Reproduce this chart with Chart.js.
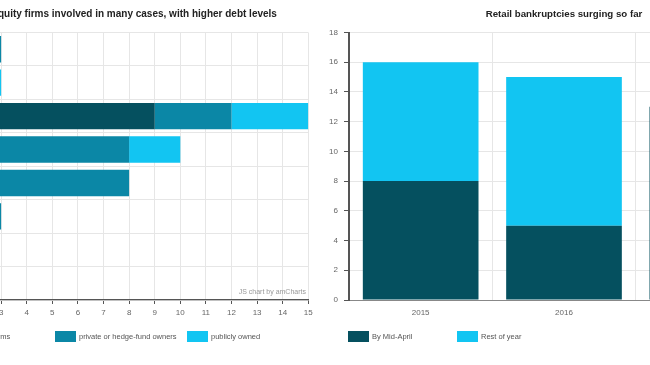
<!DOCTYPE html>
<html>
<head>
<meta charset="utf-8">
<script src="https://cdn.jsdelivr.net/npm/chart.js@4.4.0/dist/chart.umd.min.js"></script>
<style>
  body { margin: 0; width: 650px; height: 365px; overflow: hidden; position: relative; background: #fff;
         font-family: "Liberation Sans", Arial, sans-serif; }
  .wrap { position: absolute; top: 0; height: 365px; }
  .lg { position: absolute; top: 331px; height: 11px; line-height: 11px; font-size: 7.5px; color: #555; white-space: nowrap; }
  .lg i { display: inline-block; width: 21px; height: 11px; vertical-align: top; margin-right: 3px; }
  .credit { position: absolute; right: 344px; top: 288px; font-size: 7px; color: #999; }
</style>
</head>
<body>
<div class="wrap" style="left:-170px;width:495px"><canvas id="owners"></canvas></div>
<div class="wrap" style="left:300px;width:500px"><canvas id="retail"></canvas></div>

<div class="credit">JS chart by amCharts</div>

<div class="lg" style="left:-77px"><i style="background:#05505f"></i>private-equity firms</div>
<div class="lg" style="left:55px"><i style="background:#0b87a6"></i>private or hedge-fund owners</div>
<div class="lg" style="left:187px"><i style="background:#12c5f2"></i>publicly owned</div>
<div class="lg" style="left:348px"><i style="background:#05505f"></i>By Mid-April</div>
<div class="lg" style="left:457px"><i style="background:#12c5f2"></i>Rest of year</div>

<script>
// left chart: bankruptcies by owner type
const debtLevels = ['<1x', '1-2x', '2-3x', '3-4x', '4-5x', '5-6x', '6-7x', '>7x'];
const privateEquity = [0, 0, 9, 0, 0, 0, 0, 0];
const hedgeFund = [3, 0, 3, 8, 8, 3, 0, 0];
const publiclyOwned = [0, 3, 3, 2, 0, 0, 0, 0];

// right chart: retail bankruptcies per year
const years = ['2015', '2016', '2017'];
const byMidApril = [8, 5, 13];
const restOfYear = [8, 10, 0];

const DARK = '#05505f', MID = '#0b87a6', LIGHT = '#12c5f2';
const GRID = '#e6e6e6', AXIS = '#555';

Chart.defaults.font.family = '"Liberation Sans", Arial, sans-serif';
Chart.defaults.font.size = 8;
Chart.defaults.color = '#666';

const titleOpts = (text, size) => ({
  display: true, text: text, fullSize: false, color: '#222',
  font: { size: size, weight: 'bold' },
  padding: { top: 14 - size * 0.6, bottom: 32.5 - 14 - size * 0.6 }
});

new Chart(document.getElementById('owners'), {
  type: 'bar',
  data: {
    labels: debtLevels,
    datasets: [
      { label: 'private-equity firms', data: privateEquity, backgroundColor: DARK },
      { label: 'private or hedge-fund owners', data: hedgeFund, backgroundColor: MID },
      { label: 'publicly owned', data: publiclyOwned, backgroundColor: LIGHT }
    ]
  },
  options: {
    indexAxis: 'y',
    responsive: true,
    maintainAspectRatio: false,
    animation: false,
    layout: { padding: { left: 0, right: 16.7, top: 0, bottom: 40 } },
    datasets: { bar: { barPercentage: 0.79, categoryPercentage: 1 } },
    plugins: { legend: { display: false }, tooltip: { enabled: false }, title: titleOpts('Private-equity firms involved in many cases, with higher debt levels', 10) },
    scales: {
      x: {
        stacked: true, min: 0, max: 15,
        ticks: { stepSize: 1, padding: 4 },
        grid: { color: GRID, tickColor: AXIS, tickLength: 4 },
        border: { color: AXIS, width: 1.3 },
        afterFit: s => { s.height = 25; }
      },
      y: {
        stacked: true,
        grid: { color: GRID, drawTicks: false },
        border: { color: AXIS, width: 1.5 },
        ticks: { padding: 6 },
        afterFit: s => { s.width = 94.3; }
      }
    }
  }
});

new Chart(document.getElementById('retail'), {
  type: 'bar',
  data: {
    labels: years,
    datasets: [
      { label: 'By Mid-April', data: byMidApril, backgroundColor: DARK },
      { label: 'Rest of year', data: restOfYear, backgroundColor: LIGHT }
    ]
  },
  options: {
    responsive: true,
    maintainAspectRatio: false,
    animation: false,
    layout: { padding: { left: 0, right: 21, top: 0, bottom: 40 } },
    datasets: { bar: { barPercentage: 0.807, categoryPercentage: 1 } },
    plugins: { legend: { display: false }, tooltip: { enabled: false }, title: titleOpts('Retail bankruptcies surging so far', 9.7) },
    scales: {
      x: {
        stacked: true,
        grid: { color: GRID, drawTicks: false },
        border: { color: '#888', width: 1 },
        ticks: { padding: 8 },
        afterFit: s => { s.height = 25; }
      },
      y: {
        stacked: true, min: 0, max: 18,
        ticks: { stepSize: 2, padding: 6 },
        grid: { color: GRID, tickColor: AXIS, tickLength: 5 },
        border: { color: AXIS, width: 2 },
        afterFit: s => { s.width = 49; }
      }
    }
  }
});
</script>
</body>
</html>
